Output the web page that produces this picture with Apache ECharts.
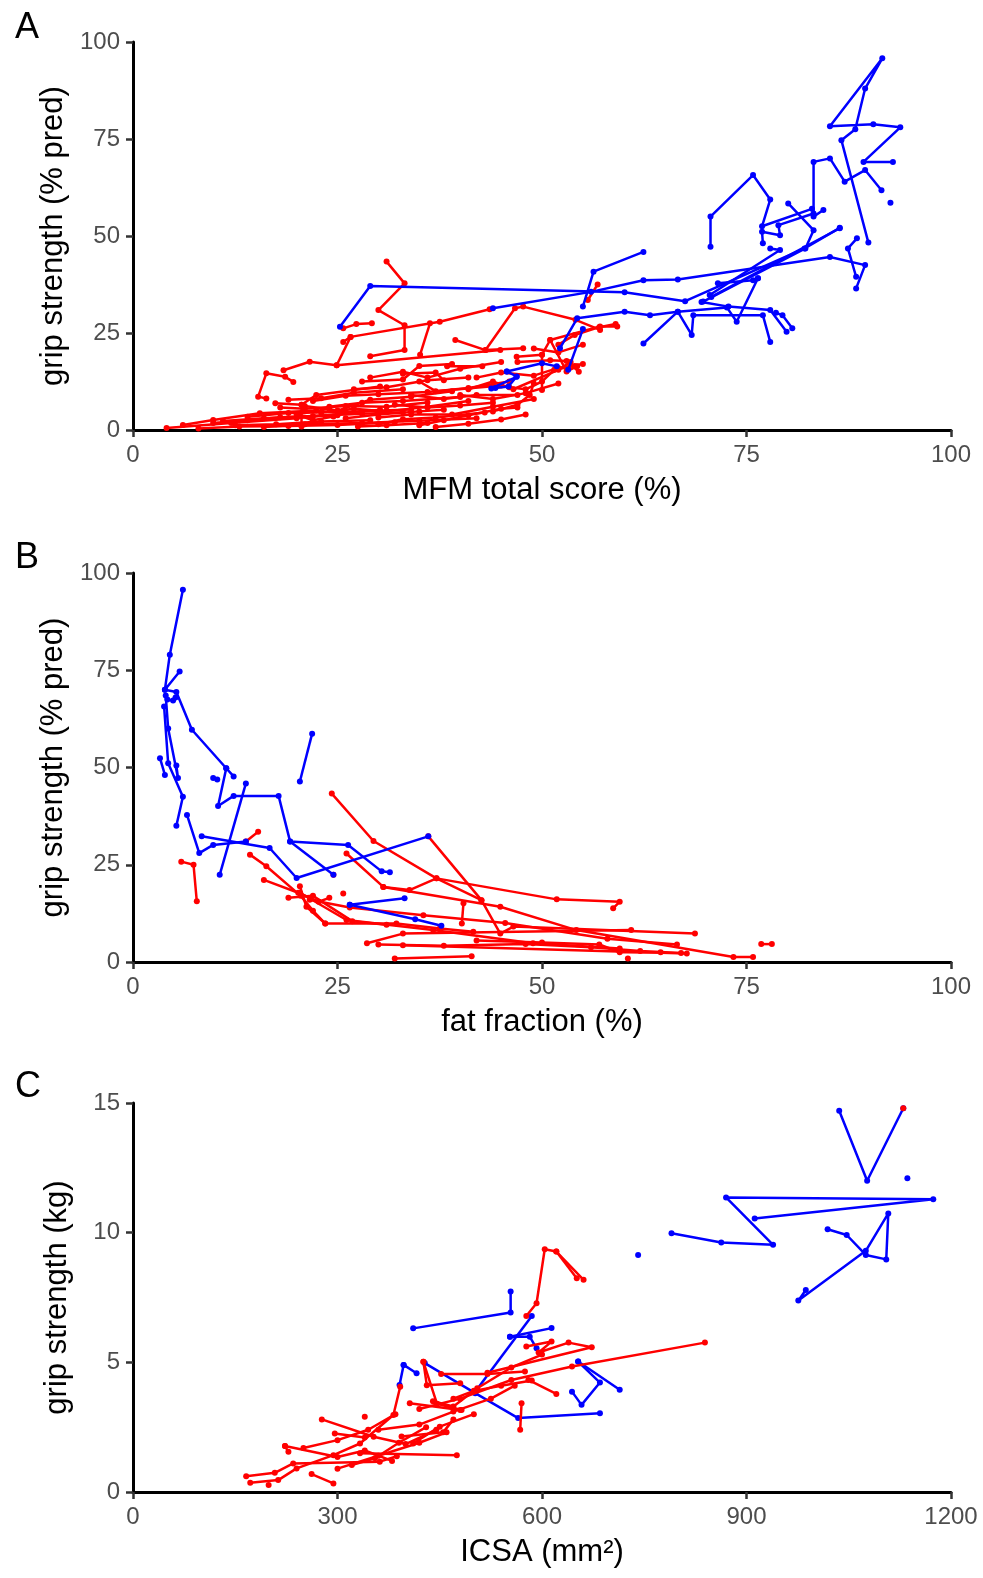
<!DOCTYPE html>
<html>
<head>
<meta charset="utf-8">
<script src="https://cdn.jsdelivr.net/npm/echarts@6/dist/echarts.min.js"></script>
<style>
html,body{margin:0;padding:0;background:#fff;}
#c{width:983px;height:1578px;}
</style>
</head>
<body>
<div id="c"></div>
<script>
// ---------- tick labels / axis settings ----------
const ticksA_x = [0, 25, 50, 75, 100];
const ticksA_y = [0, 25, 50, 75, 100];
const ticksB_x = [0, 25, 50, 75, 100];
const ticksB_y = [0, 25, 50, 75, 100];
const ticksC_x = [0, 300, 600, 900, 1200];
const ticksC_y = [0, 5, 10, 15];
const panelLetters = ['A', 'B', 'C'];
const xTitles = ['MFM total score (%)', 'fat fraction (%)', 'ICSA (mm²)'];
const yTitles = ['grip strength (% pred)', 'grip strength (% pred)', 'grip strength (kg)'];

// ---------- Panel A: MFM total score (%) vs grip strength (% pred) ----------
const panelA_red = [
  [[31.0,43.4],[33.2,37.8],[30.0,30.9],[33.2,27.0],[33.2,20.6],[29.0,19.0]],
  [[25.7,26.2],[27.3,27.3],[29.2,27.5]],
  [[25.7,22.7],[26.6,24.0],[37.5,27.9],[43.6,31.1]],
  [[26.6,24.0],[24.9,16.7]],
  [[18.4,15.4],[21.6,17.6],[24.9,16.7],[44.9,20.6]],
  [[16.3,8.1],[15.3,8.6],[16.3,14.6],[18.6,13.7],[19.6,12.4]],
  [[36.3,27.5],[35.1,19.4]],
  [[39.4,23.2],[43.1,20.6],[46.7,31.4],[47.7,31.8],[54.1,28.4],[57.1,25.8]],
  [[43.1,20.6],[47.7,21.1]],
  [[38.4,16.4],[42.7,16.4]],
  [[46.9,18.9],[50.0,19.4],[51.0,23.2],[57.1,26.7],[59.2,26.7]],
  [[50.0,19.4],[50.0,10.3]],
  [[51.0,23.2],[53.0,15.1],[54.3,16.4]],
  [[55.6,33.5],[56.8,37.5]],
  [[20.6,0.9],[20.6,6.5],[17.4,6.9]],
  [[20.6,6.5],[22.4,9.0],[30.2,11.2]],
  [[4.1,0.5],[12.0,1.8],[20.0,3.0],[30.2,5.2]],
  [[6.1,1.3],[9.8,2.6],[15.5,4.3],[22.4,5.0]],
  [[9.8,1.8],[14.0,2.5],[18.0,3.3],[25.0,3.8]],
  [[12.5,1.2],[17.5,1.5],[23.0,2.2],[29.0,2.5]],
  [[14.0,3.4],[19.0,4.4],[26.0,4.7],[34.0,5.3]],
  [[16.0,0.8],[21.0,1.5],[28.0,1.8],[35.0,2.4],[42.0,3.0]],
  [[22.0,7.5],[26.0,8.8],[30.0,9.2],[36.0,9.8],[45.0,11.5]],
  [[24.0,6.0],[28.0,7.0],[33.0,7.5],[40.0,8.5]],
  [[26.0,3.0],[30.0,4.0],[35.0,4.8],[38.0,5.2]],
  [[30.0,1.5],[33.0,2.8],[37.0,3.2],[43.0,4.5]],
  [[32.0,6.5],[36.0,5.8],[40.0,6.3],[44.0,7.0]],
  [[35.0,12.5],[37.0,10.0],[41.0,10.8],[46.0,12.5]],
  [[27.0,10.5],[31.0,11.0],[36.0,12.8],[41.0,13.5]],
  [[33.0,14.5],[37.0,14.8],[38.0,12.8]],
  [[40.0,9.0],[44.0,8.0],[48.0,9.5],[52.0,12.0]],
  [[42.0,13.5],[45.0,14.8],[49.0,14.0],[52.0,16.0],[55.0,17.0]],
  [[44.0,4.8],[47.0,6.5],[48.5,9.0],[49.0,12.0]],
  [[46.0,11.0],[48.0,10.5],[50.0,12.5],[51.5,15.5],[54.0,16.5]],
  [[52.0,22.0],[54.0,24.5],[57.0,26.5],[59.0,27.3]],
  [[47.0,17.5],[51.0,18.0],[53.0,17.8],[54.5,15.0]],
  [[24.5,3.5],[22.0,2.5],[20.0,4.0],[24.0,5.5]],
  [[27.5,0.9],[31.0,1.2],[36.0,1.8]],
  [[18.0,5.8],[21.0,5.5],[26.0,6.2],[31.0,6.0],[36.0,7.1]],
  [[35.0,1.2],[38.0,2.5],[41.0,3.8],[45.0,5.5],[47.0,5.8]],
  [[8.0,0.4],[13.0,0.9],[19.0,1.0],[25.0,1.3],[32.0,2.0]],
  [[21.0,6.2],[25.0,5.0],[29.0,7.8],[34.0,8.6],[39.0,10.0]],
  [[30.0,3.2],[34.0,4.0],[39.0,4.0],[44.0,6.0],[49.0,8.0]],
  [[41.0,10.5],[44.0,12.5],[46.5,10.5],[52.0,15.5],[53.5,17.5]],
  [[11.0,2.3],[16.0,3.0],[22.0,3.6],[28.0,4.2],[33.0,4.6]],
  [[19.0,7.8],[23.0,8.2],[27.0,9.6],[33.0,10.5]],
  [[29.0,13.5],[33.0,15.0],[36.0,13.5],[40.0,15.8],[45.0,17.5]],
  [[34.0,9.0],[38.0,8.0],[42.0,9.0],[47.0,9.0]],
  [[23.0,4.5],[27.0,5.5],[31.0,4.8],[36.0,6.0],[41.0,7.5]],
  [[37.0,0.8],[41.0,1.6],[45.0,2.7],[48.0,4.0]],
  [[28.0,12.5],[33.0,13.0],[35.0,16.5],[39.0,17.0]],
  [[49.0,21.0],[52.0,20.0],[55.0,22.0]]
];
const panelA_blue = [
  [[89.9,48.3],[86.6,74.7],[88.3,77.5],[89.5,88.0],[91.6,95.8],[85.2,78.3],[90.5,78.8],[93.8,78.0],[89.3,69.1],[92.9,69.1]],
  [[84.4,56.7],[83.2,55.0],[83.2,69.1],[85.2,70.0],[87.0,64.0],[89.5,67.0],[91.5,61.8]],
  [[92.6,58.6]],
  [[70.6,47.2],[70.6,55.0],[75.8,65.7],[77.9,59.4],[76.9,52.5],[83.0,57.0]],
  [[77.0,48.1],[76.9,51.1],[79.1,50.2],[78.9,52.8],[83.2,55.8]],
  [[80.1,58.4],[83.2,51.5],[82.2,46.8],[69.7,33.1]],
  [[86.4,52.0],[70.7,34.3]],
  [[77.9,46.8],[79.1,46.4],[70.5,34.8]],
  [[25.3,26.6],[29.0,37.1],[60.1,35.5],[67.5,33.2],[82.1,46.8],[86.4,52.1]],
  [[44.0,31.4],[56.0,35.6],[62.4,38.6],[66.6,38.8],[85.2,44.6],[89.5,42.5],[88.4,36.5]],
  [[88.4,39.5],[87.4,46.8],[88.5,49.4]],
  [[55.0,31.8],[56.3,40.8],[62.4,45.9]],
  [[52.2,21.1],[54.3,28.8],[60.1,30.5],[63.2,29.6],[66.6,30.5],[72.6,31.6],[73.8,27.9],[76.4,39.1]],
  [[62.4,22.3],[66.6,30.5],[68.3,24.5],[68.5,29.6],[77.0,29.6],[77.9,22.7]],
  [[71.5,37.8],[75.8,38.6],[76.4,39.1]],
  [[69.5,33.0],[72.8,31.8],[77.9,30.9],[79.9,25.3]],
  [[78.6,30.2],[79.4,29.6],[80.6,26.2]],
  [[45.7,15.1],[46.9,13.8],[45.9,11.2],[44.3,10.8]],
  [[45.7,15.1],[50.0,17.2],[51.8,16.4]],
  [[53.2,15.5],[55.0,26.0]],
  [[43.8,10.7],[46.9,13.7]]
];

// ---------- Panel B: fat fraction (%) vs grip strength (% pred) ----------
const panelB_red = [
  [[5.9,25.8],[7.4,25.0],[7.8,15.6]],
  [[13.8,31.0],[15.3,33.5]],
  [[24.3,43.3],[29.4,31.1],[37.1,21.5],[42.6,15.9]],
  [[36.1,32.3],[42.6,15.9],[44.9,7.3],[46.5,9.1],[68.7,7.3]],
  [[26.1,27.9],[30.6,19.3],[33.8,18.5],[37.1,21.5],[51.8,16.1],[59.5,15.5],[58.7,13.8]],
  [[30.6,19.3],[44.9,14.2],[54.2,8.2],[73.4,1.3],[75.8,1.3]],
  [[40.4,15.1],[40.2,9.9]],
  [[20.4,19.5],[21.2,14.2],[23.5,9.9],[32.2,9.9],[37.5,8.6],[41.6,7.8]],
  [[20.4,17.8],[26.1,10.8],[36.7,8.2],[48.9,4.8],[59.5,3.5]],
  [[28.6,4.8],[33.0,7.3],[60.9,8.2]],
  [[33.0,4.3],[67.7,2.2]],
  [[32.0,0.9],[41.4,1.5]],
  [[76.8,4.6],[78.1,4.6]],
  [[25.7,17.6]],
  [[24.5,22.4]],
  [[14.3,27.6],[16.3,24.6],[20.5,17.0],[22.0,13.2],[23.5,9.9]],
  [[16.0,21.1],[20.2,17.8],[22.7,15.5],[24.0,16.5]],
  [[19.0,16.5],[22.0,17.0],[26.8,10.5],[31.0,9.6]],
  [[21.6,16.0],[26.5,14.0],[35.5,12.0],[45.5,10.0],[58.0,6.0],[66.5,4.5]],
  [[30.0,4.5],[38.0,4.2],[48.0,4.6],[56.0,3.8],[62.0,2.8],[67.0,2.3]],
  [[42.0,5.5],[50.0,5.0],[57.0,4.5],[59.5,2.5],[64.5,2.5]],
  [[60.5,0.9]]
];
const panelB_blue = [
  [[6.1,95.7],[4.5,79.0],[3.9,70.0],[5.7,74.7]],
  [[3.9,70.0],[5.3,69.4],[7.2,59.7],[11.4,49.8],[12.3,47.7]],
  [[4.2,67.5],[4.9,67.2],[5.2,68.0]],
  [[3.8,65.7],[4.3,51.1],[6.1,42.5],[5.3,35.0]],
  [[3.3,52.4],[3.9,48.1]],
  [[4.0,68.5],[4.3,60.0],[5.5,47.3],[5.3,50.5]],
  [[6.6,37.8],[8.1,28.0],[9.8,30.1],[13.8,31.0]],
  [[8.4,32.3],[16.7,29.3],[20.0,21.6],[36.1,32.3]],
  [[9.8,47.3],[10.3,46.9]],
  [[11.4,49.8],[10.4,40.1],[12.3,42.7],[17.8,42.7],[19.2,31.0],[26.3,30.1],[30.4,23.3],[31.4,23.1]],
  [[13.8,45.9],[10.6,22.4]],
  [[19.2,31.0],[24.5,22.4]],
  [[20.4,46.4],[21.9,58.7]],
  [[26.5,14.7],[33.2,16.4]],
  [[26.5,14.7],[34.5,11.0],[37.7,9.3]]
];

// ---------- Panel C: ICSA (mm²) vs grip strength (kg) ----------
const panelC_red = [
  [[577,6.79],[592,7.28],[604,9.36],[621,9.27],[661,8.18]],
  [[621,9.27],[651,8.24]],
  [[839,5.76],[644,4.84],[555,4.32],[480,3.6],[420,3.2]],
  [[577,5.61],[614,5.80],[595,5.38],[639,5.76],[673,5.58],[520,4.6]],
  [[570,3.42],[568,2.40]],
  [[580,4.32],[621,3.78]],
  [[426,5.02],[431,4.12],[480,4.19]],
  [[426,5.02],[446,3.40],[482,3.16]],
  [[166,0.61],[208,0.74],[235,1.10],[362,1.17],[387,1.38]],
  [[172,0.36],[213,0.46],[240,0.91],[294,1.42],[333,1.87],[382,2.97],[392,4.06]],
  [[199,0.27]],
  [[262,0.69],[294,0.33]],
  [[223,1.77],[228,1.55]],
  [[223,1.77],[300,1.35],[340,1.6],[380,1.2]],
  [[277,2.80],[353,2.13],[400,1.85],[445,2.4]],
  [[296,2.26],[340,2.10]],
  [[340,2.90]],
  [[333,1.49],[475,1.42]],
  [[406,3.42],[480,3.16]],
  [[411,1.87],[450,2.52],[500,3.0]],
  [[394,2.14],[455,2.3],[470,2.8]],
  [[321,1.04],[355,1.3],[390,1.9],[430,2.5]],
  [[360,2.4],[420,2.6],[470,3.1],[525,3.6],[560,4.1]],
  [[452,4.55],[520,4.55],[575,4.65]],
  [[470,3.6],[500,3.9],[540,4.1],[585,4.3]],
  [[250,1.7],[300,2.0],[345,2.4],[385,3.0]],
  [[300,0.9],[360,1.4],[420,1.9],[460,2.3]],
  [[440,3.5],[470,3.3],[505,4.0],[555,4.8],[600,5.3]],
  [[1130,14.8]]
];
const panelC_blue = [
  [[1036,14.7],[1077,12.0],[1130,14.8]],
  [[1136,12.1]],
  [[790,9.98],[863,9.62],[939,9.53],[870,11.36],[1174,11.29],[912,10.55]],
  [[741,9.14]],
  [[1019,10.13],[1047,9.91],[1075,9.14],[1105,8.97],[1108,10.74],[1075,9.3],[976,7.38],[987,7.79]],
  [[411,6.31],[554,6.92],[554,7.73]],
  [[585,6.79],[502,3.87]],
  [[553,5.99],[614,6.32]],
  [[553,5.99],[582,5.99],[592,5.54]],
  [[428,4.97],[502,3.81],[565,2.85],[685,3.04]],
  [[653,5.03],[685,4.22],[658,3.36],[644,3.87]],
  [[653,5.03],[714,3.94]],
  [[397,4.90],[416,4.58]],
  [[397,4.90],[391,4.13]]
];

// ---------- build chart ----------
const RED = '#ff0000', BLUE = '#0000ff';
const grids = [
  {left: 133, width: 818, top: 42, height: 388},
  {left: 133, width: 818, top: 573, height: 389},
  {left: 133, width: 818, top: 1103, height: 389}
];
const xTicks = [ticksA_x, ticksB_x, ticksC_x];
const yTicks = [ticksA_y, ticksB_y, ticksC_y];
const FONT = 'Liberation Sans, Arial, sans-serif';

function axis(ticks, name, isY) {
  return {
    type: 'value',
    min: ticks[0], max: ticks[ticks.length - 1], interval: ticks[1] - ticks[0],
    name: name, nameLocation: 'middle', nameGap: isY ? 60 : 45,
    nameTextStyle: {color: '#000', fontSize: 31, fontFamily: FONT},
    axisLine: {show: true, onZero: false, lineStyle: {color: '#000', width: 3}},
    axisTick: {show: true, length: 7, lineStyle: {color: '#333', width: 2.5}},
    axisLabel: {color: '#4d4d4d', fontSize: 24, fontFamily: FONT, margin: isY ? 13 : 13,
                formatter: v => String(v)},
    splitLine: {show: false}
  };
}

const xAxes = [], yAxes = [];
for (let i = 0; i < 3; i++) {
  const xa = axis(xTicks[i], xTitles[i], false); xa.gridIndex = i; xAxes.push(xa);
  const ya = axis(yTicks[i], yTitles[i], true); ya.gridIndex = i; yAxes.push(ya);
}

function mk(trajs, color, gi, z) {
  return trajs.map(t => ({
    type: 'line', xAxisIndex: gi, yAxisIndex: gi, data: t,
    symbol: 'circle', symbolSize: 6, showSymbol: true,
    lineStyle: {color: color, width: 2.5}, itemStyle: {color: color},
    animation: false, silent: true, clip: false, z: z
  }));
}

const series = [].concat(
  mk(panelA_red, RED, 0, 2), mk(panelA_blue, BLUE, 0, 3),
  mk(panelB_red, RED, 1, 2), mk(panelB_blue, BLUE, 1, 3),
  mk(panelC_blue, BLUE, 2, 2), mk(panelC_red, RED, 2, 3)
);

const letterTops = [5, 535, 1064];
const chart = echarts.init(document.getElementById('c'), null, {renderer: 'canvas'});
chart.setOption({
  animation: false,
  backgroundColor: '#fff',
  title: panelLetters.map((L, i) => ({
    text: L, left: 10, top: letterTops[i],
    textStyle: {color: '#000', fontSize: 36, fontWeight: 'normal', fontFamily: FONT}
  })),
  grid: grids,
  xAxis: xAxes,
  yAxis: yAxes,
  series: series
});
</script>
</body>
</html>
